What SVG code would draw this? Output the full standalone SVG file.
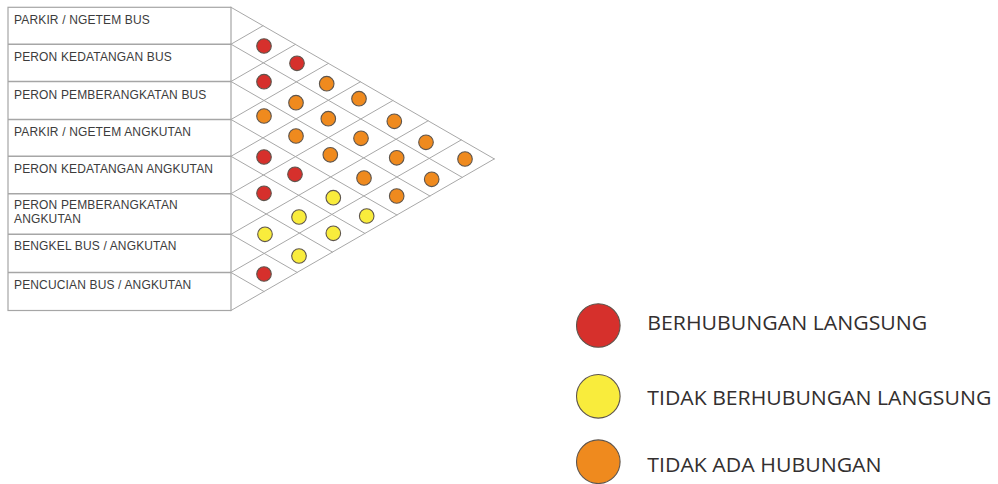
<svg xmlns="http://www.w3.org/2000/svg" width="998" height="484" viewBox="0 0 998 484">
  <defs>
    <style>
      .box { fill: #ffffff; stroke: #a6a6a6; stroke-width: 1.2; }
      .sep { stroke: #a6a6a6; stroke-width: 1.4; }
      .grid { stroke: #a8a8a8; stroke-width: 1; fill: none; stroke-linecap: round; }
      .lbl { font-family: "Liberation Sans", Arial, sans-serif; font-size: 12px; letter-spacing: 0.15px; fill: #3c3c3c; }
      .leg { font-family: "Open Sans", "Noto Sans", sans-serif; font-size: 20px; fill: #332f2f; }
      .dot { stroke: #5e554d; stroke-width: 1.1; }
      .r { fill: #d6302c; }
      .o { fill: #ef8a1e; }
      .y { fill: #f9ec3c; }
    </style>
  </defs>
  <rect width="998" height="484" fill="#ffffff"/>

  <!-- activity list -->
  <g id="activity-list">
    <rect class="box" x="8" y="7.3" width="223" height="303.2"/>
    <g id="row-1"><text class="lbl" x="14" y="24.3">PARKIR / NGETEM BUS</text></g>
    <line class="sep" x1="8" y1="44.2" x2="231" y2="44.2"/>
    <g id="row-2"><text class="lbl" x="14" y="61">PERON KEDATANGAN BUS</text></g>
    <line class="sep" x1="8" y1="81.5" x2="231" y2="81.5"/>
    <g id="row-3"><text class="lbl" x="14" y="98.6">PERON PEMBERANGKATAN BUS</text></g>
    <line class="sep" x1="8" y1="119.5" x2="231" y2="119.5"/>
    <g id="row-4"><text class="lbl" x="14" y="135.6">PARKIR / NGETEM ANGKUTAN</text></g>
    <line class="sep" x1="8" y1="156.3" x2="231" y2="156.3"/>
    <g id="row-5"><text class="lbl" x="14" y="172.8">PERON KEDATANGAN ANGKUTAN</text></g>
    <line class="sep" x1="8" y1="193.7" x2="231" y2="193.7"/>
    <g id="row-6"><text class="lbl" x="14" y="208.6">PERON PEMBERANGKATAN</text><text class="lbl" x="14" y="222.7">ANGKUTAN</text></g>
    <line class="sep" x1="8" y1="234.3" x2="231" y2="234.3"/>
    <g id="row-7"><text class="lbl" x="14" y="250.2">BENGKEL BUS / ANGKUTAN</text></g>
    <line class="sep" x1="8" y1="272.5" x2="231" y2="272.5"/>
    <g id="row-8"><text class="lbl" x="14" y="289">PENCUCIAN BUS / ANGKUTAN</text></g>
  </g>

  <!-- diagonal relationship grid -->
  <g id="connectors">
    <!-- outer triangle -->
    <line class="grid" x1="231" y1="7.3" x2="494.3" y2="158.9"/>
    <line class="grid" x1="231" y1="310.5" x2="494.3" y2="158.9"/>
    <!-- down-right diagonals -->
    <line class="grid" x1="231" y1="44.2" x2="462.2" y2="177.35"/>
    <line class="grid" x1="231" y1="81.5" x2="429.9" y2="196"/>
    <line class="grid" x1="231" y1="119.5" x2="396.9" y2="215"/>
    <line class="grid" x1="231" y1="156.3" x2="364.9" y2="233.4"/>
    <line class="grid" x1="231" y1="193.7" x2="332.4" y2="252.1"/>
    <line class="grid" x1="231" y1="234.3" x2="297.2" y2="272.4"/>
    <line class="grid" x1="231" y1="272.5" x2="264" y2="291.5"/>
    <!-- up-right diagonals -->
    <line class="grid" x1="231" y1="44.2" x2="263" y2="25.75"/>
    <line class="grid" x1="231" y1="81.5" x2="295.4" y2="44.4"/>
    <line class="grid" x1="231" y1="119.5" x2="328.4" y2="63.4"/>
    <line class="grid" x1="231" y1="156.3" x2="360.4" y2="81.8"/>
    <line class="grid" x1="231" y1="193.7" x2="392.9" y2="100.5"/>
    <line class="grid" x1="231" y1="234.3" x2="428.1" y2="120.8"/>
    <line class="grid" x1="231" y1="272.5" x2="461.3" y2="139.9"/>
  </g>

  <!-- relationship markers -->
  <g id="markers">
    <circle class="dot r" cx="264" cy="46" r="7.3"/>
    <circle class="dot r" cx="297" cy="63.3" r="7.3"/>
    <circle class="dot r" cx="264" cy="81.7" r="7.3"/>
    <circle class="dot o" cx="326.7" cy="83.7" r="7.3"/>
    <circle class="dot o" cx="296" cy="102.7" r="7.3"/>
    <circle class="dot o" cx="359" cy="98.7" r="7.3"/>
    <circle class="dot o" cx="264" cy="116" r="7.3"/>
    <circle class="dot o" cx="328.3" cy="118.7" r="7.3"/>
    <circle class="dot o" cx="394.3" cy="121.3" r="7.3"/>
    <circle class="dot o" cx="296" cy="136" r="7.3"/>
    <circle class="dot o" cx="361" cy="138.3" r="7.3"/>
    <circle class="dot o" cx="426" cy="142.3" r="7.3"/>
    <circle class="dot r" cx="264" cy="157" r="7.3"/>
    <circle class="dot o" cx="330.3" cy="154.8" r="7.3"/>
    <circle class="dot o" cx="396.7" cy="157.8" r="7.3"/>
    <circle class="dot o" cx="465" cy="159" r="7.3"/>
    <circle class="dot r" cx="295" cy="174.3" r="7.3"/>
    <circle class="dot o" cx="364" cy="178" r="7.3"/>
    <circle class="dot o" cx="431.7" cy="179.3" r="7.3"/>
    <circle class="dot r" cx="264" cy="193.3" r="7.3"/>
    <circle class="dot y" cx="333.3" cy="197.7" r="7.3"/>
    <circle class="dot o" cx="396.7" cy="196" r="7.3"/>
    <circle class="dot y" cx="299" cy="217" r="7.3"/>
    <circle class="dot y" cx="366.7" cy="216" r="7.3"/>
    <circle class="dot y" cx="265" cy="234.3" r="7.3"/>
    <circle class="dot y" cx="333.3" cy="233.3" r="7.3"/>
    <circle class="dot y" cx="299" cy="256" r="7.3"/>
    <circle class="dot r" cx="264" cy="274" r="7.3"/>
  </g>

  <!-- legend -->
  <g id="legend">
    <g id="legend-direct">
      <circle class="dot r" cx="598.3" cy="325.5" r="21.8"/>
      <text class="leg" x="647.3" y="330" textLength="280" lengthAdjust="spacingAndGlyphs">BERHUBUNGAN LANGSUNG</text>
    </g>
    <g id="legend-indirect">
      <circle class="dot y" cx="598.3" cy="396.3" r="21.8"/>
      <text class="leg" x="647.3" y="405" textLength="344" lengthAdjust="spacingAndGlyphs">TIDAK BERHUBUNGAN LANGSUNG</text>
    </g>
    <g id="legend-none">
      <circle class="dot o" cx="598.3" cy="461.7" r="21.8"/>
      <text class="leg" x="647.3" y="471.7" textLength="234.3" lengthAdjust="spacingAndGlyphs">TIDAK ADA HUBUNGAN</text>
    </g>
  </g>
</svg>
